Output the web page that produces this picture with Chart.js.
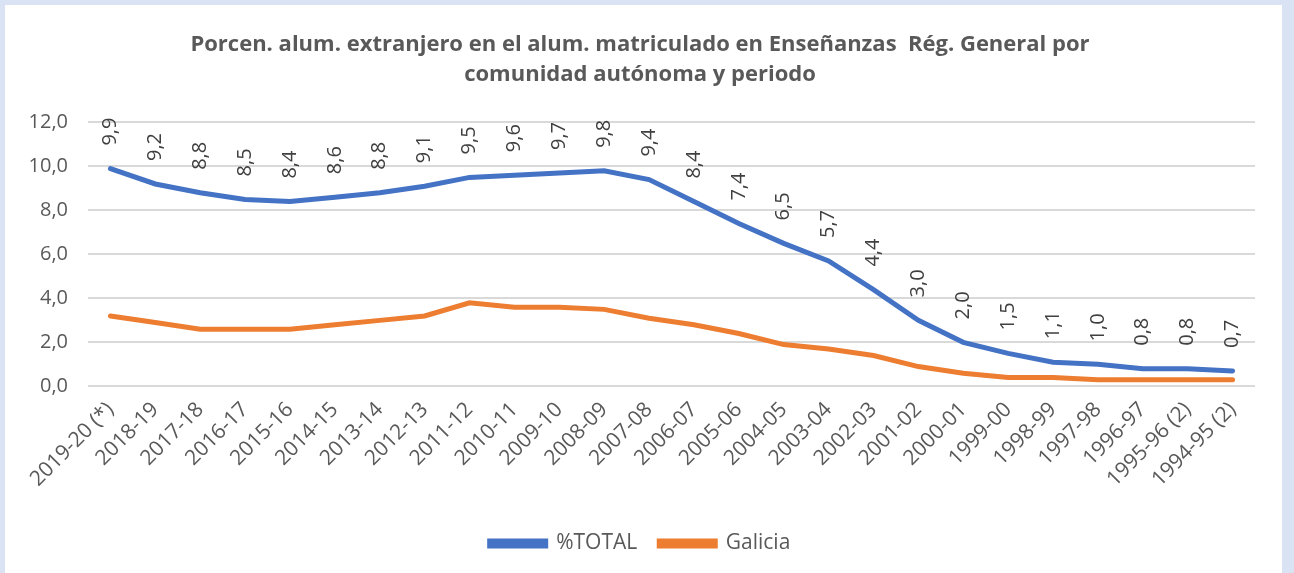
<!DOCTYPE html>
<html>
<head>
<meta charset="utf-8">
<script src="https://cdn.jsdelivr.net/npm/chart.js@4/dist/chart.umd.min.js"></script>
<style>
  html, body { margin: 0; padding: 0; background: #dae3f3; }
  #card { position: absolute; left: 5px; top: 5px; width: 1277px; height: 568px; background: #fff; }
</style>
</head>
<body>
<div id="card"><canvas id="myChart" width="1277" height="568"></canvas></div>
<script>
var periodos = ['2019-20 (*)', '2018-19', '2017-18', '2016-17', '2015-16', '2014-15', '2013-14', '2012-13',
    '2011-12', '2010-11', '2009-10', '2008-09', '2007-08', '2006-07', '2005-06', '2004-05', '2003-04',
    '2002-03', '2001-02', '2000-01', '1999-00', '1998-99', '1997-98', '1996-97', '1995-96 (2)', '1994-95 (2)'];
var total = [9.9, 9.2, 8.8, 8.5, 8.4, 8.6, 8.8, 9.1, 9.5, 9.6, 9.7, 9.8, 9.4, 8.4, 7.4, 6.5, 5.7, 4.4, 3.0,
    2.0, 1.5, 1.1, 1.0, 0.8, 0.8, 0.7];
var galicia = [3.2, 2.9, 2.6, 2.6, 2.6, 2.8, 3.0, 3.2, 3.8, 3.6, 3.6, 3.5, 3.1, 2.8, 2.4, 1.9, 1.7, 1.4, 0.9,
    0.6, 0.4, 0.4, 0.3, 0.3, 0.3, 0.3];
var yTicks = [0, 2, 4, 6, 8, 10, 12];

var gris = '#595959';

function coma(v) {
    return v.toFixed(1).replace('.', ',');
}

// etiquetas verticales sobre la serie %TOTAL
var etiquetas = {
    id: 'etiquetas',
    afterDatasetsDraw: function(chart) {
        var ctx = chart.ctx;
        var meta = chart.getDatasetMeta(0);
        ctx.save();
        ctx.fillStyle = '#404040';
        ctx.font = '20px "Open Sans", sans-serif';
        ctx.textAlign = 'center';
        ctx.textBaseline = 'middle';
        meta.data.forEach(function(pt, i) {
            ctx.save();
            ctx.translate(pt.x, pt.y - 37);
            ctx.rotate(-Math.PI / 2);
            ctx.fillText(coma(total[i]), 0, 0);
            ctx.restore();
        });
        ctx.restore();
    }
};

var data = {
    labels: periodos,
    datasets: [{
        label: '%TOTAL',
        data: total,
        borderColor: '#4472c4',
        backgroundColor: '#4472c4',
        borderWidth: 5,
        pointRadius: 0,
        borderCapStyle: 'round',
    }, {
        label: 'Galicia',
        data: galicia,
        borderColor: '#ed7d31',
        backgroundColor: '#ed7d31',
        borderWidth: 5,
        pointRadius: 0,
        borderCapStyle: 'round',
    }]
};

var config = {
    type: 'line',
    data: data,
    plugins: [etiquetas],
    options: {
        responsive: false,
        animation: false,
        layout: { padding: { left: 20, right: 27, top: 13, bottom: 9 } },
        plugins: {
            title: {
                display: true,
                text: ['Porcen. alum. extranjero en el alum. matriculado en Enseñanzas  Rég. General por',
                    'comunidad autónoma y periodo'],
                color: gris,
                font: { family: '"Open Sans", sans-serif', size: 22, weight: 'bold', lineHeight: 1.35 },
                padding: { top: 12, bottom: 33 }
            },
            legend: {
                position: 'bottom',
                labels: {
                    color: gris,
                    boxWidth: 56,
                    boxHeight: 5,
                    padding: 22,
                    font: { family: '"Open Sans", sans-serif', size: 21 }
                }
            },
            tooltip: { enabled: false }
        },
        scales: {
            x: {
                offset: true,
                grid: { display: false },
                border: { display: false },
                afterFit: function(axis) {
                    axis.height += 16;
                    axis.paddingLeft = 0;
                },
                ticks: {
                    color: gris,
                    maxRotation: 45,
                    minRotation: 45,
                    autoSkip: false,
                    font: { family: '"Open Sans", sans-serif', size: 21 }
                }
            },
            y: {
                min: 0,
                max: 12,
                afterBuildTicks: function(axis) {
                    axis.ticks = yTicks.map(function(v) { return { value: v }; });
                },
                afterFit: function(axis) {
                    axis.width = 63;
                },
                grid: { color: '#d9d9d9', lineWidth: 2, drawTicks: false },
                border: { display: false },
                ticks: {
                    color: gris,
                    padding: 20,
                    font: { family: '"Open Sans", sans-serif', size: 20 },
                    callback: function(v) { return coma(v); }
                }
            }
        }
    }
};

var myChart = new Chart(document.getElementById('myChart'), config);
</script>
</body>
</html>
